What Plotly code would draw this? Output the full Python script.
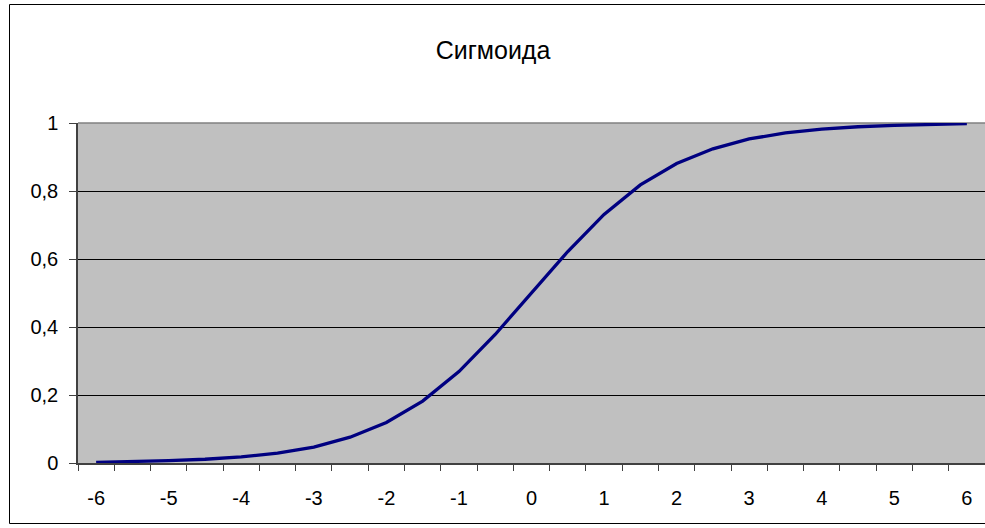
import plotly.graph_objects as go

# Data
x_values = [-6, -5.5, -5, -4.5, -4, -3.5, -3, -2.5, -2, -1.5, -1, -0.5, 0,
            0.5, 1, 1.5, 2, 2.5, 3, 3.5, 4, 4.5, 5, 5.5, 6]
y_values = [0.002, 0.004, 0.007, 0.011, 0.018, 0.029, 0.047, 0.076, 0.119,
            0.182, 0.269, 0.378, 0.5, 0.622, 0.731, 0.818, 0.881, 0.924,
            0.953, 0.971, 0.982, 0.989, 0.993, 0.996, 0.998]
x_tick_text = ["-6", "", "-5", "", "-4", "", "-3", "", "-2", "", "-1", "", "0",
               "", "1", "", "2", "", "3", "", "4", "", "5", "", "6"]
y_tick_vals = [0, 0.2, 0.4, 0.6, 0.8, 1]
y_tick_text = ["0", "0,2", "0,4", "0,6", "0,8", "1"]
title_text = "Сигмоида"

categories = [str(v) for v in x_values]

FONT = "Liberation Sans, Arial, sans-serif"

fig = go.Figure()
fig.add_trace(go.Scatter(
    x=categories, y=y_values, mode="lines",
    line=dict(color="#000080", width=3.3),
    showlegend=False, hoverinfo="skip",
))

L, T, B = 78, 123, 65
W, H = 985, 528
pw = W - L
ph = H - T - B

def px2x(px):
    return (px - L) / pw

def py2y(py):
    return (H - B - py) / ph

fig.update_layout(
    width=W, height=H,
    margin=dict(l=L, r=0, t=T, b=B, pad=0),
    paper_bgcolor="white",
    plot_bgcolor="#C0C0C0",
    font=dict(family=FONT, size=20, color="black"),
    title=dict(text=title_text, x=493 / W, xref="container", xanchor="center",
               y=1 - 50 / H, yref="container", yanchor="middle",
               font=dict(family=FONT, size=25, color="black")),
    xaxis=dict(
        type="category",
        tickmode="array", tickvals=categories, ticktext=x_tick_text,
        tickson="boundaries",
        ticks="outside", ticklen=6, tickwidth=1, tickcolor="#404040",
        showgrid=False, zeroline=False,
        showline=True, linecolor="#404040", linewidth=1.5,
        range=[-0.5, len(categories) - 0.5],
        tickfont=dict(family=FONT, size=20, color="black"),
        ticklabelstandoff=16,
    ),
    yaxis=dict(
        range=[0, 1],
        tickmode="array", tickvals=y_tick_vals, ticktext=y_tick_text,
        ticks="outside", ticklen=7, tickwidth=1, tickcolor="#404040",
        showgrid=True, gridcolor="black", gridwidth=1,
        zeroline=False,
        showline=True, linecolor="#404040", linewidth=1.5,
        tickfont=dict(family=FONT, size=20, color="black"),
        ticklabelstandoff=7,
    ),
    shapes=[
        # outer chart border (right side cut off)
        dict(type="rect", xref="paper", yref="paper",
             x0=px2x(9.5), x1=px2x(995), y0=py2y(523.5), y1=py2y(4.5),
             line=dict(color="black", width=1), fillcolor="rgba(0,0,0,0)",
             layer="above"),
        # plot area top border
        dict(type="line", xref="paper", yref="paper",
             x0=0, x1=1, y0=1, y1=1,
             line=dict(color="#808080", width=1.5), layer="between"),
    ],
)

fig.write_html(
    "out.html",
    config={"displayModeBar": False},
    post_script="document.body.style.margin='0';document.body.style.overflow='hidden';",
)
